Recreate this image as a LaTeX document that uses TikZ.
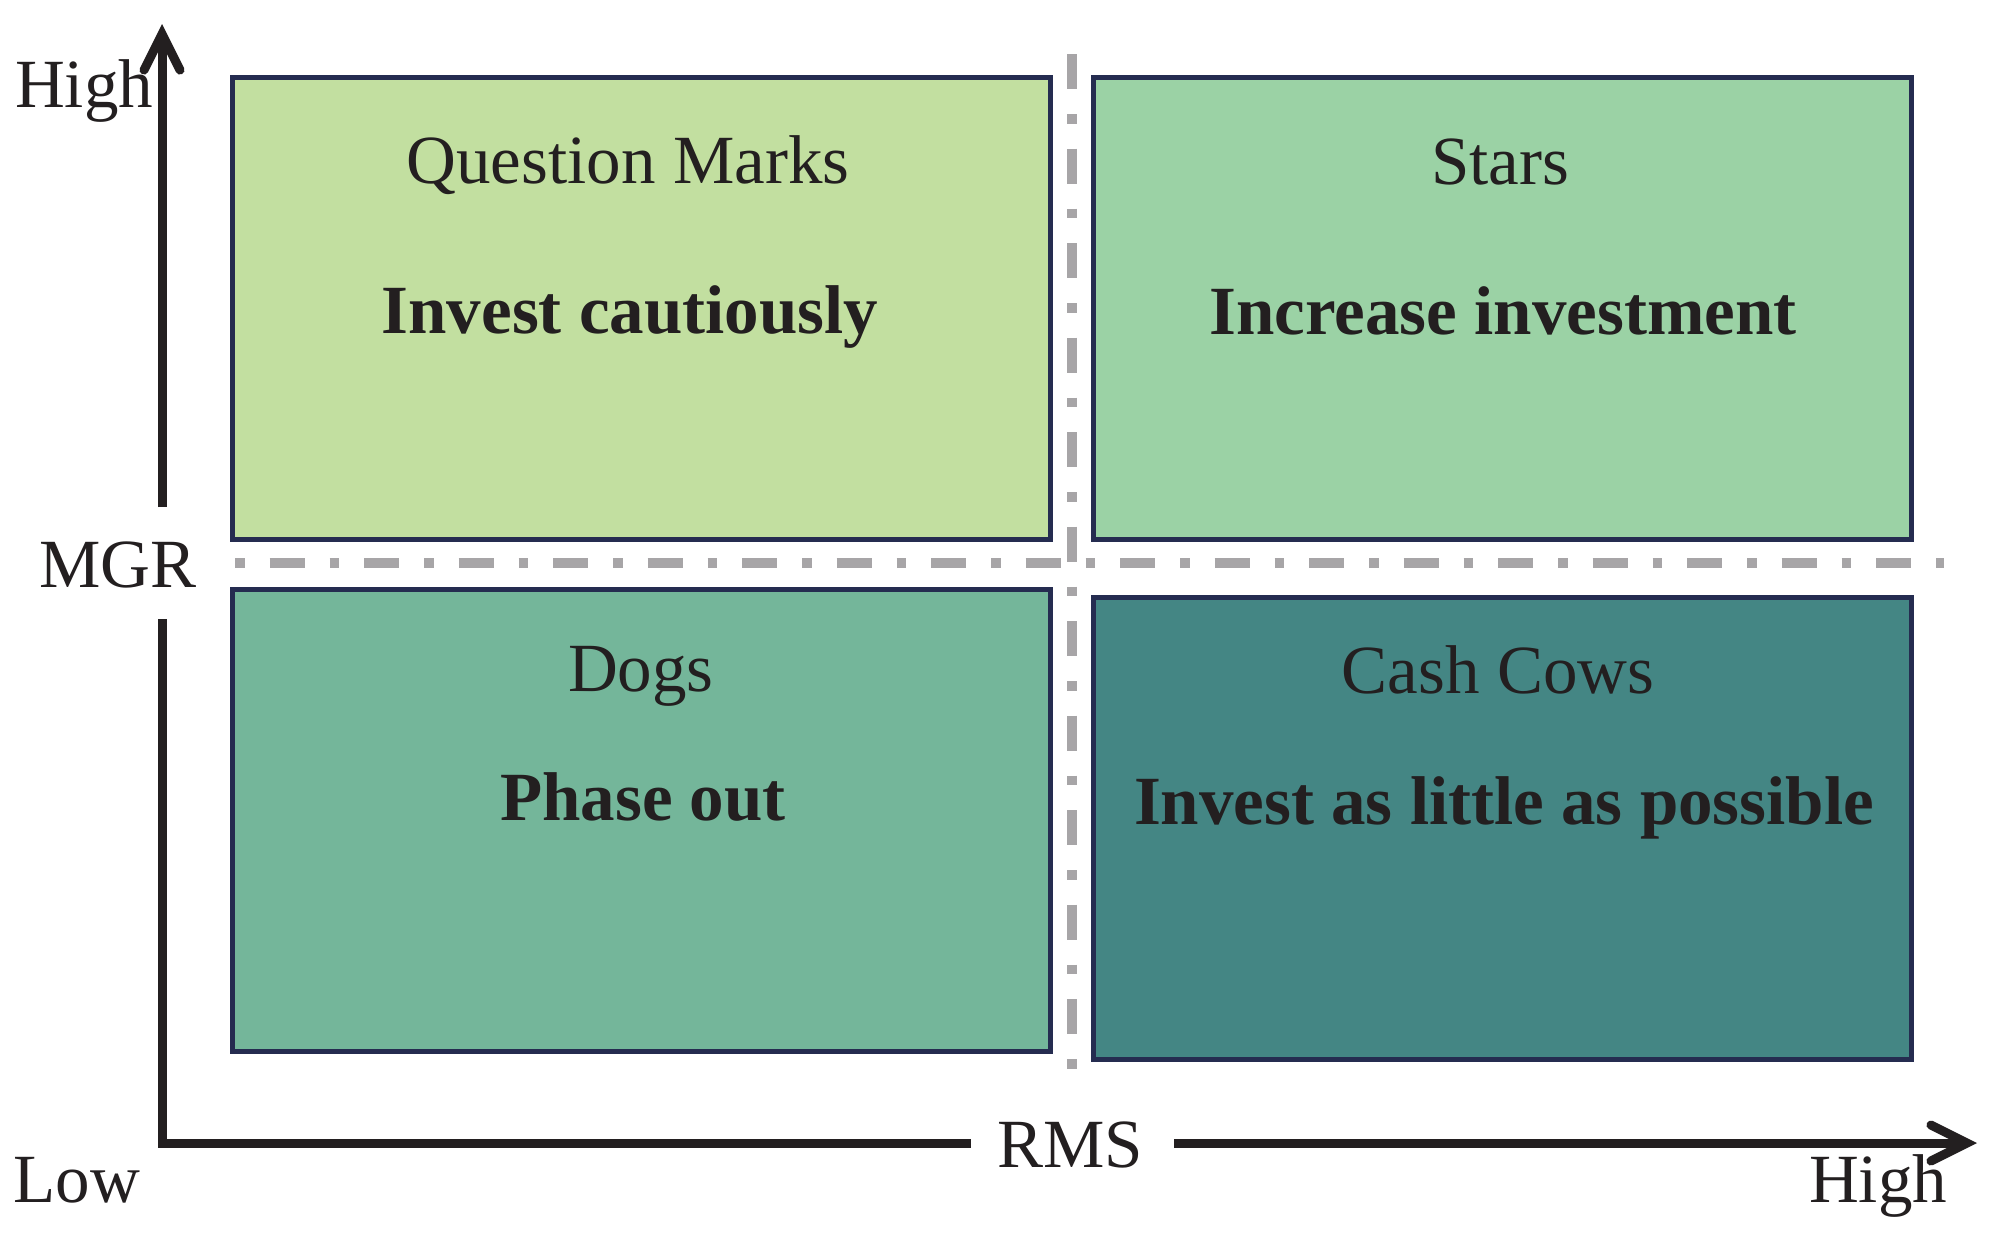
\documentclass[tikz,border=0pt]{standalone}
\usepackage{fontspec}
\setmainfont{Liberation Serif}
\usetikzlibrary{arrows.meta}
\definecolor{ink}{HTML}{231F20}
\definecolor{edgeblue}{HTML}{252C50}
\definecolor{qfill}{HTML}{C2DFA0}
\definecolor{sfill}{HTML}{9BD2A5}
\definecolor{dfill}{HTML}{74B69A}
\definecolor{cfill}{HTML}{448684}
\definecolor{gridgray}{HTML}{A7A5A7}
\tikzset{
  quad/.style={draw=edgeblue, line width=2.5pt, minimum width=409pt, minimum height=231pt, inner sep=0pt},
  lab/.style={font=\fontsize{34.5}{41}\selectfont, text=ink, inner sep=0pt, anchor=base},
  boldlab/.style={lab, font=\fontsize{34.5}{41}\selectfont\bfseries},
  axis/.style={draw=ink, line width=4.5pt, line join=miter},
  axisarrow/.style={axis, -{Straight Barb[length=18pt, width=18pt, line cap=round, line join=miter]}},
  hgrid/.style={draw=gridgray, line width=5pt, dash pattern=on 4.75pt off 12.5pt on 17.5pt off 12.5pt},
  vgrid/.style={draw=gridgray, line width=5pt, dash pattern=on 17.5pt off 12.5pt on 4.75pt off 12.5pt}
}
\begin{document}
\begin{tikzpicture}[x=0.5pt, y=-0.5pt]
\useasboundingbox[fill=white] (0,0) rectangle (1990,1248);

% quadrants
\node[quad, fill=qfill] (qm) at (641.5,308.5) {};
\node[quad, fill=sfill] (st) at (1502.5,308.5) {};
\node[quad, fill=dfill] (dg) at (641.5,820) {};
\node[quad, fill=cfill] (cc) at (1502.5,828.5) {};

% grid lines
\coordinate (hgL) at (235,563);
\coordinate (hgR) at (1944,563);
\coordinate (vgT) at (1072,54);
\coordinate (vgB) at (1072,1069);
\draw[hgrid] (hgL) -- (hgR);
\draw[vgrid] (vgT) -- (vgB);

% quadrant texts
\node[lab] (qmt) at (628,183) {Question Marks};
\node[boldlab] (qmb) at (630,333) {Invest cautiously};
\node[lab] (stt) at (1500,184) {Stars};
\node[boldlab] (stb) at (1503,334) {Increase investment};
\node[lab] (dgt) at (641,691) {Dogs};
\node[boldlab] (dgb) at (643,820) {Phase out};
\node[lab] (cct) at (1498,693) {Cash Cows};
\node[boldlab] (ccb) at (1504,824) {Invest as little as possible};

% axis labels
\node[lab] (yhigh) at (84,107) {High};
\node[lab] (mgr) at (118,587) {MGR};
\node[lab] (rms) at (1070,1167) {RMS};
\node[lab] (low) at (77,1202) {Low};
\node[lab] (xhigh) at (1878,1202) {High};

% axes
\coordinate (corner) at (162,1143);
\coordinate (yGapLow) at (162,619);
\coordinate (yGapHigh) at (162,507);
\coordinate (yTip) at (162,24);
\coordinate (xGapLeft) at (971,1143);
\coordinate (xGapRight) at (1174,1143);
\coordinate (xTip) at (1977,1143);
\draw[axis] (yGapLow) -- (corner) -- (xGapLeft);
\draw[axisarrow] (yGapHigh) -- (yTip);
\draw[axisarrow] (xGapRight) -- (xTip);
\end{tikzpicture}
\end{document}
